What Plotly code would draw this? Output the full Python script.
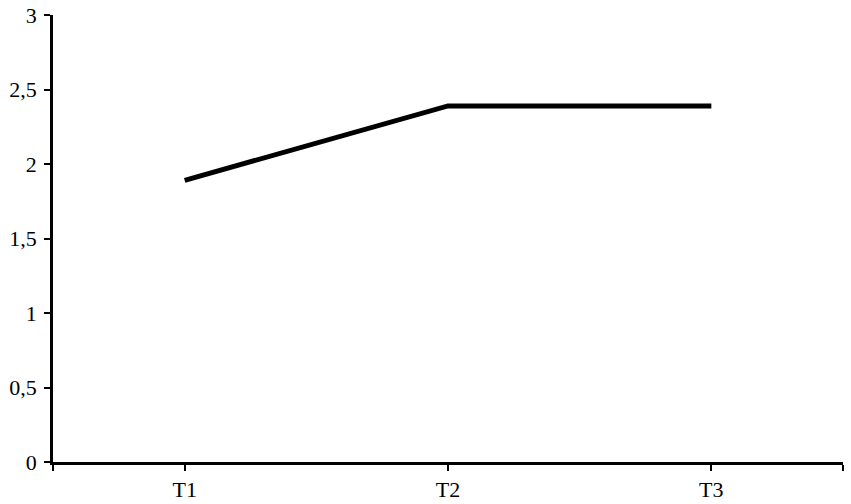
import plotly.graph_objects as go

categories = ["T1", "T2", "T3"]
values = [1.89, 2.39, 2.39]
y_ticks = [0, 0.5, 1, 1.5, 2, 2.5, 3]
y_tick_labels = ["0", "0,5", "1", "1,5", "2", "2,5", "3"]

fig = go.Figure()
fig.add_trace(go.Scatter(
    x=list(range(len(categories))), y=values, mode="lines",
    line=dict(color="black", width=5, shape="linear"),
    hoverinfo="skip", showlegend=False,
))

fig.update_layout(
    width=851, height=504,
    margin=dict(l=53, r=8, t=15, b=42, autoexpand=False),
    paper_bgcolor="white", plot_bgcolor="white",
    font=dict(family="Liberation Serif", size=22, color="black"),
)
fig.update_xaxes(
    range=[-0.5, 2.5],
    tickmode="array",
    tickvals=[-0.5, 0, 1, 2, 2.5],
    ticktext=["", "T1", "T2", "T3", ""],
    ticks="outside", ticklen=6, tickwidth=2, tickcolor="black",
    showline=True, linecolor="black", linewidth=2.5,
    showgrid=False, zeroline=False, automargin=False,
    ticklabelstandoff=0, ticklabeloverflow="allow",
)
fig.update_yaxes(
    range=[0, 3],
    tickmode="array", tickvals=y_ticks, ticktext=y_tick_labels,
    ticks="outside", ticklen=6, tickwidth=2, tickcolor="black",
    showline=True, linecolor="black", linewidth=2.5,
    showgrid=False, zeroline=False, automargin=False,
    ticklabelstandoff=3, ticklabeloverflow="allow",
)

fig.write_html(
    "out.html",
    config={"displayModeBar": False},
    post_script="document.body.style.margin='0';",
)
